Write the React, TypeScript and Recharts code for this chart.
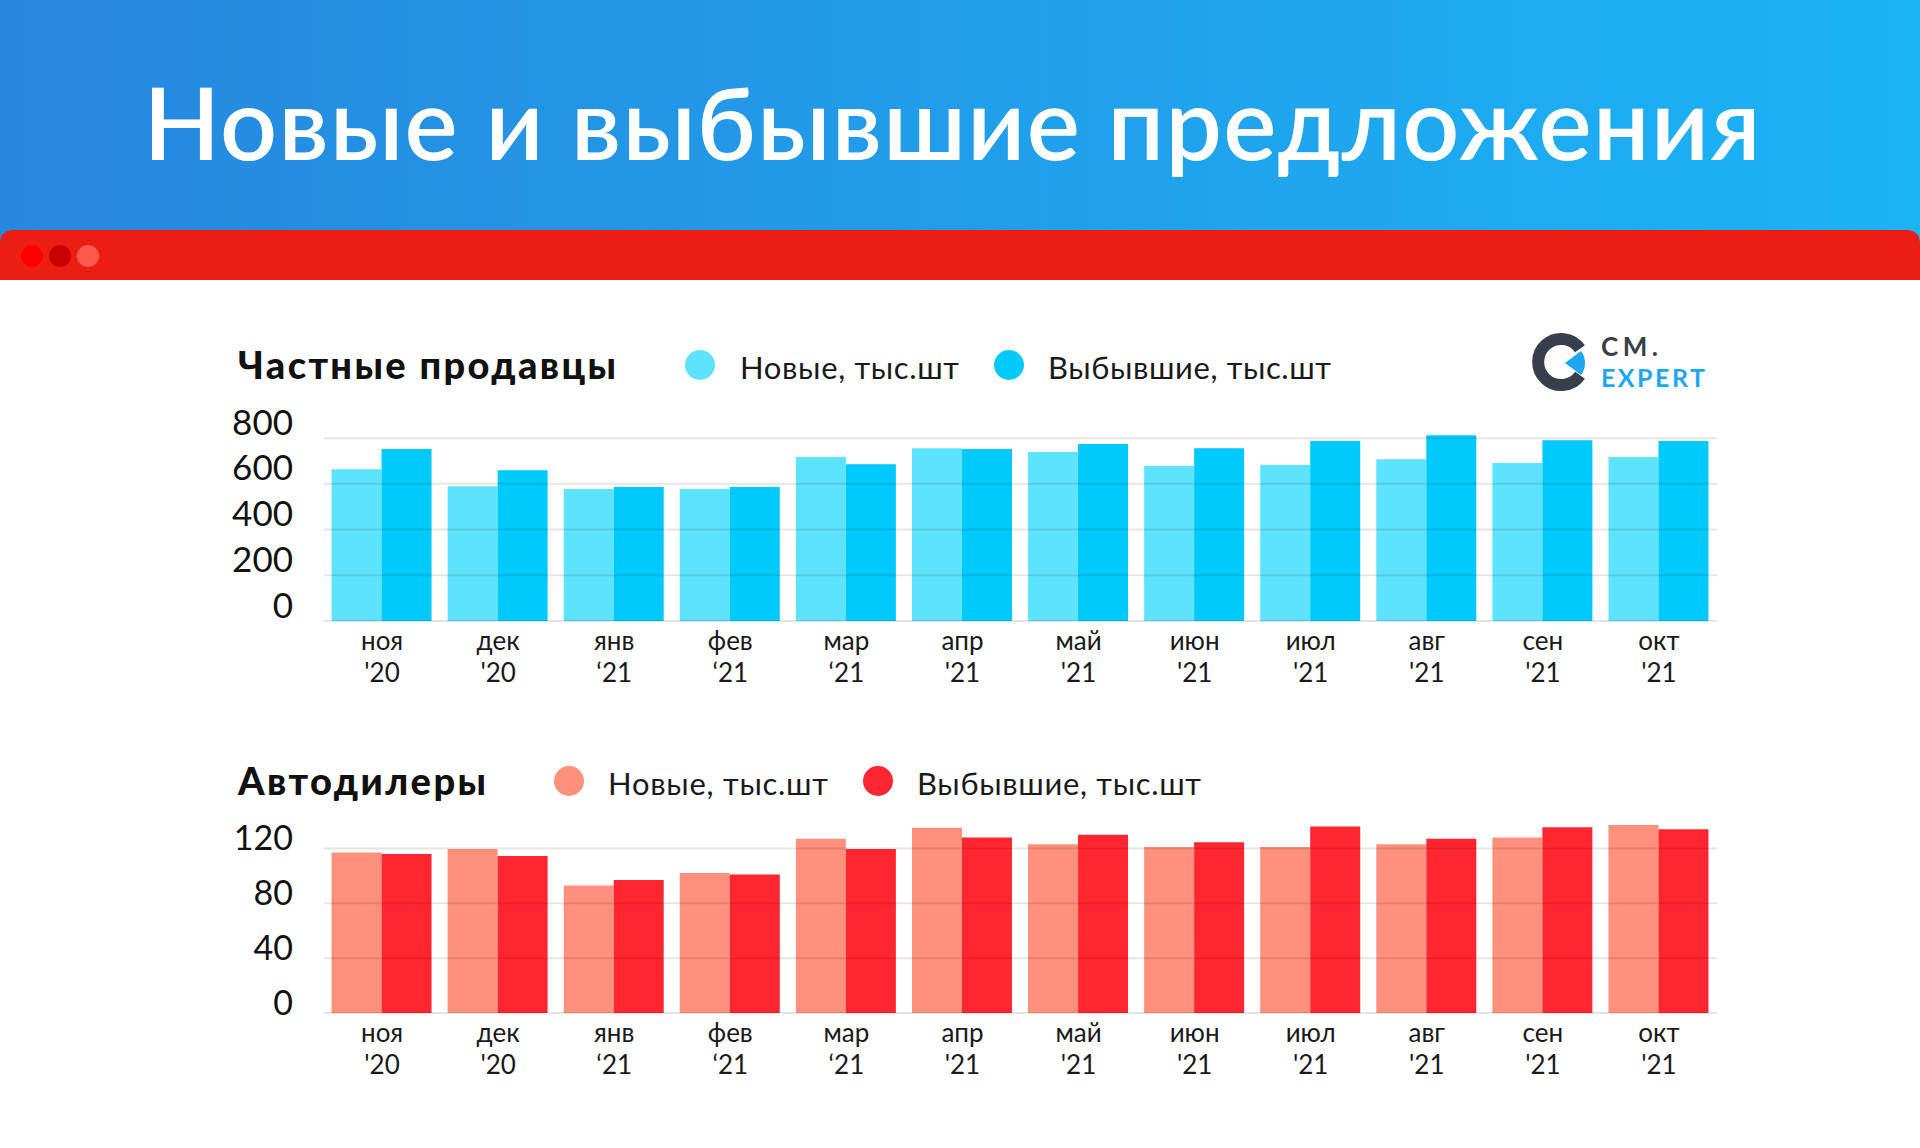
import React from 'react';
import { BarChart, Bar, XAxis, YAxis, CartesianGrid } from 'recharts';

const months = ['ноя', 'дек', 'янв', 'фев', 'мар', 'апр', 'май', 'июн', 'июл', 'авг', 'сен', 'окт'];
const years = ["'20", "'20", '‘21', '‘21', '‘21', "'21", "'21", "'21", "'21", "'21", "'21", "'21"];
const privateNew = [664, 590, 577, 577, 717, 756, 739, 678, 682, 708, 691, 717];
const privateGone = [752, 660, 586, 586, 686, 752, 774, 756, 787, 813, 791, 787];
const dealerNew = [117, 119.5, 93, 102, 127, 135, 123, 121, 121, 123, 128, 137];
const dealerGone = [116, 114.5, 97, 101, 119.5, 128, 130, 124.5, 136, 127, 135.5, 134];
const privateTicks = [0, 200, 400, 600, 800];
const dealerTicks = [0, 40, 80, 120];
const titleText = 'Новые и выбывшие предложения';
const privateTitle = 'Частные продавцы';
const dealerTitle = 'Автодилеры';
const legendNew = 'Новые, тыс.шт';
const legendGone = 'Выбывшие, тыс.шт';

const FONT = 'Lato, "Noto Sans", sans-serif';

const privateData = months.map((m, i) => ({ month: m, year: years[i], n: privateNew[i], g: privateGone[i] }));
const dealerData = months.map((m, i) => ({ month: m, year: years[i], n: dealerNew[i], g: dealerGone[i] }));

const XTick = (props: any) => {
  const { x, y, payload } = props;
  const idx = typeof props.index === 'number' ? props.index : months.indexOf(payload.value);
  return (
    <g>
      <text x={x} y={y + 29} textAnchor="middle" fontSize={26} fill="#1a1a1a" fontFamily={FONT}>
        {payload.value}
      </text>
      <text x={x} y={y + 61} textAnchor="middle" fontSize={26} fill="#1a1a1a" fontFamily={FONT}>
        {years[idx]}
      </text>
    </g>
  );
};

const makeYTick = (dy: number, size: number) => (props: any) => {
  const { x, y, payload } = props;
  return (
    <text x={x} y={y + dy} textAnchor="end" fontSize={size} fill="#111" fontFamily={FONT}>
      {payload.value}
    </text>
  );
};

const TopYTick = makeYTick(-3.5, 35);
const BottomYTick = makeYTick(1.5, 34);

function Panel(p: {
  top: number;
  data: any[];
  ticks: number[];
  domainMax: number;
  marginTop: number;
  xHeight: number;
  light: string;
  dark: string;
  YT: any;
}) {
  const gen = (args: any) => {
    const s = args && args.yAxis && args.yAxis.scale;
    if (typeof s === 'function') return p.ticks.map((t) => s(t));
    if (s && typeof s.map === 'function') return p.ticks.map((t) => s.map(t));
    return [];
  };
  const YT = p.YT;
  return (
    <div style={{ position: 'absolute', left: 0, top: p.top, width: 1920, height: 300 }}>
      <BarChart
        width={1920}
        height={300}
        data={p.data}
        margin={{ top: p.marginTop, right: 203, bottom: 0, left: 264 }}
        barCategoryGap="6.5%"
        barGap={0}
      >
        <XAxis
          dataKey="month"
          axisLine={false}
          tickLine={false}
          tickSize={0}
          tickMargin={0}
          height={p.xHeight}
          interval={0}
          tick={<XTick />}
        />
        <YAxis
          type="number"
          domain={[0, p.domainMax]}
          ticks={p.ticks}
          width={60}
          axisLine={false}
          tickLine={false}
          tickSize={0}
          tickMargin={31}
          interval={0}
          tick={<YT />}
        />
        <Bar dataKey="n" fill={p.light} isAnimationActive={false} />
        <Bar dataKey="g" fill={p.dark} isAnimationActive={false} />
        <CartesianGrid
          vertical={false}
          stroke="rgba(0,0,0,0.1)"
          strokeWidth={2}
          syncWithTicks
          horizontalCoordinatesGenerator={gen}
          {...({ zIndex: 1000 } as any)}
        />
      </BarChart>
    </div>
  );
}

function Background() {
  return (
    <svg width={1920} height={1148} style={{ position: 'absolute', left: 0, top: 0 }}>
      <defs>
        <linearGradient id="hdr" x1="0" y1="0" x2="1" y2="0">
          <stop offset="0" stopColor="#2787de" />
          <stop offset="1" stopColor="#1bb4f5" />
        </linearGradient>
      </defs>
      <rect x={0} y={0} width={1920} height={260} fill="url(#hdr)" />
      <rect x={0} y={280} width={1920} height={868} fill="#ffffff" />
      <path d="M0,280 L0,244 Q0,230 14,230 L1906,230 Q1920,230 1920,244 L1920,280 Z" fill="#ec1d12" />
      <circle cx={32} cy={256} r={11} fill="#ff0000" />
      <circle cx={60} cy={256} r={11} fill="#c90000" />
      <circle cx={88} cy={256} r={11} fill="#ff5a4b" />
      <text
        x={952}
        y={160}
        textAnchor="middle"
        fontSize={100}
        fontWeight={600}
        fill="#ffffff"
        fontFamily={FONT}
        textLength={1617}
        lengthAdjust="spacing"
      >
        {titleText}
      </text>

      {/* private sellers header */}
      <text x={238} y={379} fontSize={38} fontWeight={900} fill="#111" fontFamily={FONT} textLength={378} lengthAdjust="spacing">
        {privateTitle}
      </text>
      <circle cx={700} cy={365} r={15} fill="#5de3fd" />
      <text x={740} y={379} fontSize={31} fill="#1a1a1a" fontFamily={FONT} textLength={219} lengthAdjust="spacing">
        {legendNew}
      </text>
      <circle cx={1009} cy={365} r={15} fill="#00c9fb" />
      <text x={1048} y={379} fontSize={31} fill="#1a1a1a" fontFamily={FONT} textLength={283} lengthAdjust="spacing">
        {legendGone}
      </text>

      {/* dealers header */}
      <text x={238} y={795} fontSize={38} fontWeight={900} fill="#111" fontFamily={FONT} textLength={248} lengthAdjust="spacing">
        {dealerTitle}
      </text>
      <circle cx={569} cy={781} r={15} fill="#ff907c" />
      <text x={608} y={795} fontSize={31} fill="#1a1a1a" fontFamily={FONT} textLength={220} lengthAdjust="spacing">
        {legendNew}
      </text>
      <circle cx={878} cy={781} r={15} fill="#ff2630" />
      <text x={917} y={795} fontSize={31} fill="#1a1a1a" fontFamily={FONT} textLength={284} lengthAdjust="spacing">
        {legendGone}
      </text>

      {/* logo */}
      <g>
        <path
          d="M 1580.0 348.8 A 23 23 0 1 0 1580.0 375.2"
          fill="none"
          stroke="#37404a"
          strokeWidth={12}
        />
        <path d="M 1565 363 L 1581 351 A 20 20 0 0 1 1581 375 Z" fill="#1ea6f2" />
        <text x={1601} y={356} fontSize={26} fontWeight={700} fill="#37404a" fontFamily={FONT} textLength={57} lengthAdjust="spacing">
          CM.
        </text>
        <text x={1601} y={387} fontSize={25} fontWeight={700} fill="#1ea6f2" fontFamily={FONT} textLength={104} lengthAdjust="spacing">
          EXPERT
        </text>
      </g>
    </svg>
  );
}

export default function App() {
  return (
    <div style={{ position: 'absolute', left: 0, top: 0, width: 1920, height: 1148, overflow: 'hidden', background: '#fff' }}>
      <Background />
      <Panel
        top={400}
        data={privateData}
        ticks={privateTicks}
        domainMax={840}
        marginTop={29}
        xHeight={79}
        light="#5de3fd"
        dark="#00c9fb"
        YT={TopYTick}
      />
      <Panel
        top={790}
        data={dealerData}
        ticks={dealerTicks}
        domainMax={140}
        marginTop={31}
        xHeight={77}
        light="#ff907c"
        dark="#ff2630"
        YT={BottomYTick}
      />
    </div>
  );
}
